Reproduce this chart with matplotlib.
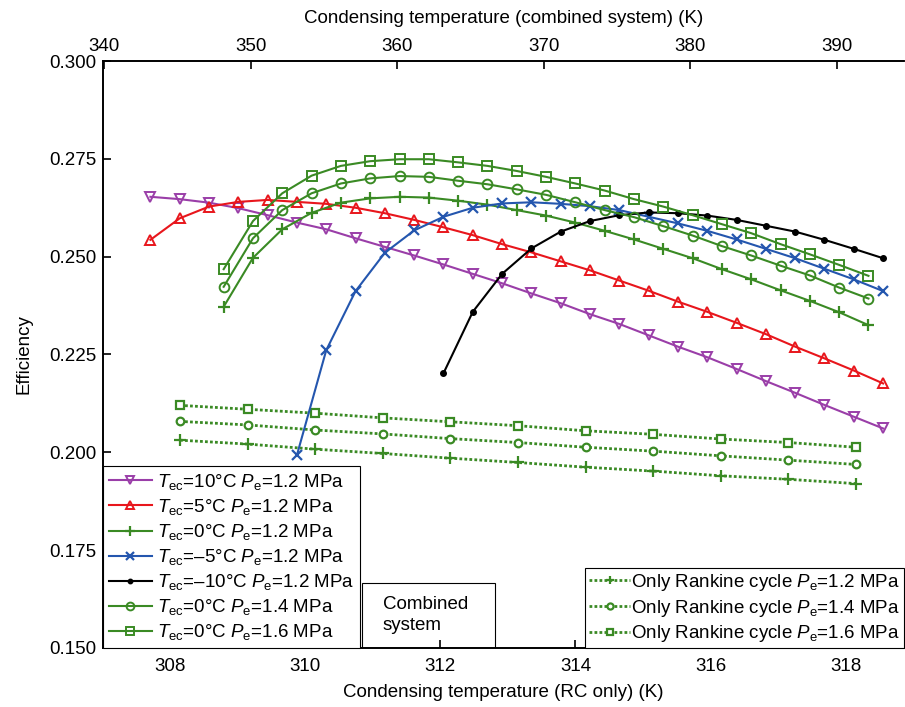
import matplotlib
matplotlib.use("Agg")
import matplotlib.pyplot as plt
from matplotlib.patches import Rectangle

plt.rcParams['font.family'] = ['Liberation Sans', 'DejaVu Sans']
plt.rcParams['mathtext.fontset'] = 'custom'
plt.rcParams['mathtext.rm'] = 'Liberation Sans'
plt.rcParams['mathtext.it'] = 'Liberation Sans:italic'
plt.rcParams['font.size'] = 13.5

# combined system, condensing temperature (K), top axis
t_343 = [343.15, 345.15, 347.15, 349.15, 351.15, 353.15, 355.15, 357.15, 359.15, 361.15,
         363.15, 365.15, 367.15, 369.15, 371.15, 373.15, 375.15, 377.15, 379.15, 381.15,
         383.15, 385.15, 387.15, 389.15, 391.15, 393.15]
t_348 = [348.15, 350.15, 352.15, 354.15, 356.15, 358.15, 360.15, 362.15, 364.15, 366.15,
         368.15, 370.15, 372.15, 374.15, 376.15, 378.15, 380.15, 382.15, 384.15, 386.15,
         388.15, 390.15, 392.15]
t_353 = [353.15, 355.15, 357.15, 359.15, 361.15, 363.15, 365.15, 367.15, 369.15, 371.15,
         373.15, 375.15, 377.15, 379.15, 381.15, 383.15, 385.15, 387.15, 389.15, 391.15, 393.15]
t_363 = [363.15, 365.15, 367.15, 369.15, 371.15, 373.15, 375.15, 377.15, 379.15, 381.15,
         383.15, 385.15, 387.15, 389.15, 391.15, 393.15]

eff_10 = [0.2653, 0.2647, 0.2638, 0.2624, 0.2606, 0.2587, 0.2570, 0.2547, 0.2525, 0.2503,
          0.2480, 0.2456, 0.2432, 0.2406, 0.2381, 0.2353, 0.2328, 0.2299, 0.2270, 0.2243,
          0.2213, 0.2182, 0.2152, 0.2121, 0.2091, 0.2061]
eff_5 = [0.2543, 0.2598, 0.2628, 0.2640, 0.2645, 0.2640, 0.2635, 0.2625, 0.2611, 0.2594,
         0.2575, 0.2555, 0.2532, 0.2511, 0.2488, 0.2465, 0.2439, 0.2413, 0.2385, 0.2359,
         0.2331, 0.2302, 0.2270, 0.2240, 0.2209, 0.2176]
eff_0_12 = [0.2372, 0.2497, 0.2570, 0.2612, 0.2638, 0.2649, 0.2653, 0.2651, 0.2643, 0.2633,
            0.2619, 0.2605, 0.2587, 0.2566, 0.2544, 0.2520, 0.2496, 0.2468, 0.2442, 0.2414,
            0.2387, 0.2358, 0.2325]
eff_m5 = [0.1993, 0.2261, 0.2412, 0.2510, 0.2567, 0.2602, 0.2625, 0.2636, 0.2639, 0.2635,
          0.2629, 0.2619, 0.2602, 0.2585, 0.2566, 0.2544, 0.2520, 0.2496, 0.2469, 0.2442, 0.2412]
eff_m10 = [0.2202, 0.2359, 0.2456, 0.2521, 0.2564, 0.2591, 0.2606, 0.2613, 0.2611, 0.2605,
           0.2594, 0.2579, 0.2564, 0.2543, 0.2520, 0.2496]
eff_0_14 = [0.2423, 0.2547, 0.2619, 0.2662, 0.2687, 0.2700, 0.2706, 0.2704, 0.2694, 0.2685,
            0.2672, 0.2658, 0.2639, 0.2619, 0.2601, 0.2578, 0.2554, 0.2527, 0.2503, 0.2477,
            0.2452, 0.2421, 0.2393]
eff_0_16 = [0.2468, 0.2591, 0.2662, 0.2707, 0.2732, 0.2744, 0.2749, 0.2749, 0.2741, 0.2732,
            0.2719, 0.2704, 0.2687, 0.2669, 0.2647, 0.2628, 0.2606, 0.2583, 0.2560, 0.2532,
            0.2506, 0.2479, 0.2451]

# Rankine cycle only, bottom axis
t_rc = [308.15, 309.15, 310.15, 311.15, 312.15, 313.15, 314.15, 315.15, 316.15, 317.15, 318.15]
rc_12 = [0.2031, 0.2021, 0.2008, 0.1997, 0.1985, 0.1974, 0.1962, 0.1952, 0.1940, 0.1931, 0.1920]
rc_14 = [0.2079, 0.2070, 0.2057, 0.2047, 0.2035, 0.2025, 0.2013, 0.2003, 0.1991, 0.1980, 0.1969]
rc_16 = [0.2120, 0.2110, 0.2100, 0.2088, 0.2078, 0.2068, 0.2055, 0.2046, 0.2034, 0.2025, 0.2013]

purple = '#9a3ea8'
red = '#e8161c'
green = '#3a8a24'
blue = '#2456ae'

fig = plt.figure(figsize=(9.05, 7.07), dpi=100)
ax = fig.add_axes([0.1138, 0.0835, 0.885, 0.8302])
ax2 = ax.twiny()

dot = (0, (1, 0.8))
l_rc12, = ax.plot(t_rc, rc_12, color=green, ls=dot, lw=2, marker='+', ms=8, mew=1.6,
                  label=r'Only Rankine cycle $P_{\mathrm{e}}$=1.2 MPa')
l_rc14, = ax.plot(t_rc, rc_14, color=green, ls=dot, lw=2, marker='o', ms=5.5, mew=1.6, mfc='white',
                  label=r'Only Rankine cycle $P_{\mathrm{e}}$=1.4 MPa')
l_rc16, = ax.plot(t_rc, rc_16, color=green, ls=dot, lw=2, marker='s', ms=5.5, mew=1.6, mfc='white',
                  label=r'Only Rankine cycle $P_{\mathrm{e}}$=1.6 MPa')

lines = []
lines += ax2.plot(t_343, eff_10, color=purple, lw=1.5, marker='v', ms=7, mew=1.4, mfc='none',
                  label=r'$T_{\mathrm{ec}}$=10°C $P_{\mathrm{e}}$=1.2 MPa')
lines += ax2.plot(t_343, eff_5, color=red, lw=1.5, marker='^', ms=7, mew=1.4, mfc='none',
                  label=r'$T_{\mathrm{ec}}$=5°C $P_{\mathrm{e}}$=1.2 MPa')
lines += ax2.plot(t_348, eff_0_12, color=green, lw=1.5, marker='+', ms=9, mew=1.6,
                  label=r'$T_{\mathrm{ec}}$=0°C $P_{\mathrm{e}}$=1.2 MPa')
lines += ax2.plot(t_353, eff_m5, color=blue, lw=1.5, marker='x', ms=7, mew=1.6,
                  label=r'$T_{\mathrm{ec}}$=–5°C $P_{\mathrm{e}}$=1.2 MPa')
lines += ax2.plot(t_363, eff_m10, color='black', lw=1.5, marker='o', ms=4,
                  label=r'$T_{\mathrm{ec}}$=–10°C $P_{\mathrm{e}}$=1.2 MPa')
lines += ax2.plot(t_348, eff_0_14, color=green, lw=1.5, marker='o', ms=7, mew=1.4, mfc='none',
                  label=r'$T_{\mathrm{ec}}$=0°C $P_{\mathrm{e}}$=1.4 MPa')
lines += ax2.plot(t_348, eff_0_16, color=green, lw=1.5, marker='s', ms=6.5, mew=1.4, mfc='none',
                  label=r'$T_{\mathrm{ec}}$=0°C $P_{\mathrm{e}}$=1.6 MPa')

ax.set_xlim(307.01, 318.86)
ax2.set_xlim(339.915, 394.57)
ax.set_ylim(0.150, 0.300)
ax.set_xticks([308, 310, 312, 314, 316, 318])
ax2.set_xticks([340, 350, 360, 370, 380, 390])
ax.set_yticks([0.150, 0.175, 0.200, 0.225, 0.250, 0.275, 0.300])
ax.set_yticklabels(['0.150', '0.175', '0.200', '0.225', '0.250', '0.275', '0.300'])

for a in (ax, ax2):
    a.tick_params(direction='in', length=6, width=1.2, labelsize=13.5)
    for s in a.spines.values():
        s.set_linewidth(1.2)
    a.spines['right'].set_visible(False)
ax.tick_params(axis='x', pad=7)
ax.tick_params(axis='y', pad=5)
ax2.tick_params(axis='x', pad=4)

ax.set_xlabel('Condensing temperature (RC only) (K)', fontsize=13.5, labelpad=7)
ax2.set_xlabel('Condensing temperature (combined system) (K)', fontsize=13.5, labelpad=11)
ax.set_ylabel('Efficiency', fontsize=13.5, labelpad=12)

# "Combined system" box
ax2.add_patch(Rectangle((0.323, 0.0), 0.166, 0.111, transform=ax2.transAxes,
                        fill=False, edgecolor='black', lw=0.8))
ax2.text(0.349, 0.056, 'Combined\nsystem', transform=ax2.transAxes, ha='left', va='center',
         fontsize=13.5, linespacing=1.3)

leg1 = ax2.legend(handles=lines, loc='lower left', bbox_to_anchor=(0, 0), borderaxespad=0,
                  numpoints=1, fancybox=False, edgecolor='black', framealpha=1,
                  handlelength=2.3, handletextpad=0.3, labelspacing=0.27, borderpad=0.3,
                  fontsize=13.5, markerscale=0.8)
leg1.get_frame().set_linewidth(0.8)
ax2.add_artist(leg1)
leg2 = ax2.legend(handles=[l_rc12, l_rc14, l_rc16], loc='lower right', bbox_to_anchor=(1, 0),
                  borderaxespad=0, numpoints=1, fancybox=False, edgecolor='black', framealpha=1,
                  handlelength=2.2, handletextpad=0.05, labelspacing=0.25, borderpad=0.2,
                  fontsize=13.5, markerscale=0.8)
leg2.get_frame().set_linewidth(0.8)

fig.savefig('out.png', dpi=100)
